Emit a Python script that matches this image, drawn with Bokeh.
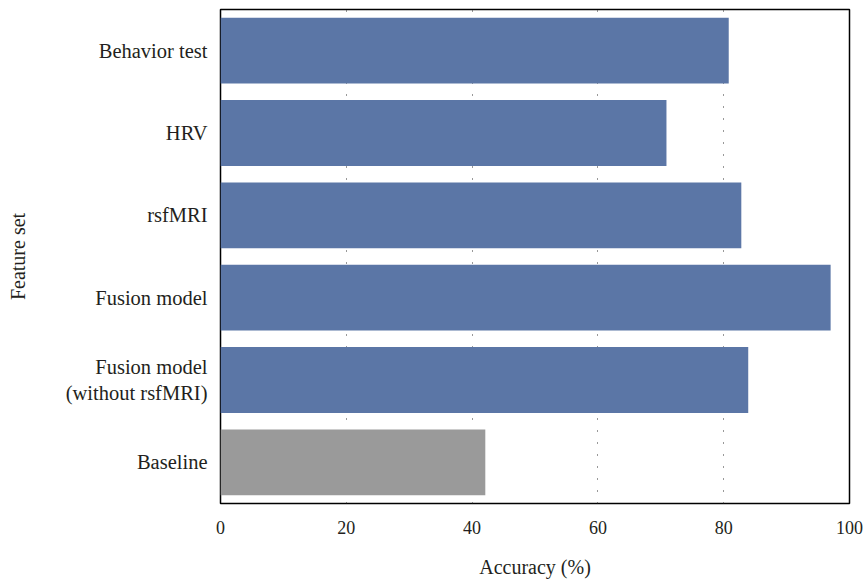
from bokeh.plotting import figure
from bokeh.models import FactorRange, FixedTicker, Range1d
from bokeh.embed import file_html
from bokeh.resources import INLINE

categories = ["Behavior test", "HRV", "rsfMRI", "Fusion model",
              "Fusion model\n(without rsfMRI)", "Baseline"]
accuracy = [80.8, 70.9, 82.8, 97.0, 83.9, 42.1]
colors = ["#5b76a6", "#5b76a6", "#5b76a6", "#5b76a6", "#5b76a6", "#9a9a9a"]
x_ticks = [0, 20, 40, 60, 80, 100]

FONT = "Liberation Serif"

p = figure(width=863, height=580, output_backend="svg", toolbar_location=None,
           y_range=FactorRange(*categories[::-1], range_padding=0),
           x_range=Range1d(0, 100),
           min_border_left=220, min_border_right=14, min_border_top=9,
           min_border_bottom=76)

p.hbar(y=categories, right=accuracy, height=0.8, left=0,
       fill_color=colors, line_color=None)

p.outline_line_color = "black"
p.outline_line_width = 1.5
p.outline_line_alpha = 1

p.xaxis.ticker = FixedTicker(ticks=x_ticks)
p.xgrid.ticker = FixedTicker(ticks=[20, 40, 60, 80])
p.xgrid.grid_line_color = "#333333"
p.xgrid.grid_line_dash = "1 11"
p.xgrid.grid_line_width = 1
p.ygrid.grid_line_color = None

for ax in (p.xaxis, p.yaxis):
    ax.axis_line_color = None
    ax.major_tick_line_color = None
    ax.minor_tick_line_color = None
    ax.major_label_text_font = FONT
    ax.major_label_text_color = "#231f20"
    ax.axis_label_text_font = FONT
    ax.axis_label_text_font_size = "20px"
    ax.axis_label_text_font_style = "normal"
    ax.axis_label_text_color = "#231f20"

p.xaxis.major_label_text_font_size = "18px"
p.yaxis.major_label_text_font_size = "20.5px"

p.xaxis.axis_label = "Accuracy (%)"
p.xaxis.major_label_standoff = 11
p.xaxis.axis_label_standoff = 19
p.yaxis.axis_label = "Feature set"
p.yaxis.major_label_standoff = 7
p.yaxis.axis_label_standoff = 34

open("out.html", "w").write(file_html(p, INLINE))
